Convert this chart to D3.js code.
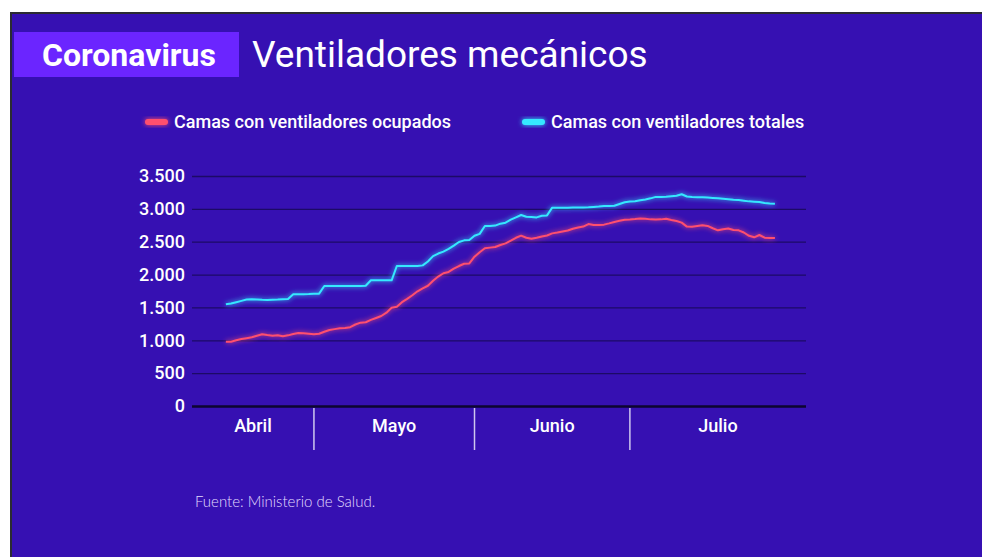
<!DOCTYPE html>
<html>
<head>
<meta charset="utf-8">
<script src="https://cdn.jsdelivr.net/npm/d3@7"></script>
<style>
  html, body { margin: 0; padding: 0; background: #fff; }
  svg { display: block; }
</style>
</head>
<body>
<script>
// data: camas con ventiladores, Ministerio de Salud (from 14 April 2020, daily)
var startDate = new Date(2020, 3, 14);

var ocupados = [
	979, 978, 1000, 1020, 1032, 1045, 1068, 1092, 1080, 1070, 1078, 1060, 1075, 1095, 1111, 1108, 1100,
	1092, 1100, 1130, 1157, 1170, 1182, 1188, 1200, 1240, 1268, 1275, 1310, 1340, 1370, 1420, 1496,
	1510, 1580, 1630, 1685, 1745, 1790, 1830, 1905, 1970, 2020, 2040, 2090, 2130, 2165, 2170,
	2272, 2340, 2400, 2410, 2420, 2450, 2475, 2515, 2560, 2592, 2560, 2546, 2560, 2580, 2595, 2627,
	2640, 2655, 2670, 2698, 2715, 2730, 2769, 2755, 2755, 2760, 2779, 2800, 2818, 2835,
	2838, 2845, 2855, 2848, 2840, 2838, 2840, 2850, 2830, 2815, 2790, 2730, 2728, 2738, 2749, 2740,
	2705, 2673, 2690, 2700, 2678, 2673, 2640, 2590, 2567, 2602, 2561, 2558, 2555
];

var totales = [
	1548, 1560, 1580, 1600, 1620, 1625, 1622, 1615, 1612, 1618, 1620, 1625, 1630, 1700, 1700, 1702, 1705,
	1710, 1710, 1826, 1826, 1826, 1826, 1826, 1826, 1826, 1826, 1830, 1913, 1913, 1913, 1913, 1913,
	2130, 2130, 2130, 2130, 2130, 2140, 2200, 2280, 2320, 2350, 2390, 2440, 2495, 2521, 2525,
	2590, 2620, 2739, 2739, 2745, 2775, 2790, 2835, 2870, 2906, 2880, 2875, 2870, 2896, 2900, 3018,
	3018, 3018, 3018, 3020, 3020, 3022, 3025, 3030, 3035, 3043, 3045, 3048, 3075, 3100,
	3112, 3115, 3130, 3142, 3160, 3182, 3182, 3185, 3192, 3200, 3222, 3188, 3182, 3178, 3175, 3172,
	3167, 3162, 3155, 3148, 3140, 3135, 3125, 3114, 3110, 3105, 3088, 3082, 3078
];

var yTicks = [0, 500, 1000, 1500, 2000, 2500, 3000, 3500];
var months = ['Abril', 'Mayo', 'Junio', 'Julio'];
var monthStarts = [new Date(2020, 4, 1), new Date(2020, 5, 1), new Date(2020, 6, 1)];
var seriesNames = ['Camas con ventiladores ocupados', 'Camas con ventiladores totales'];
var seriesColors = ['#ff4f6e', '#35e8ff'];

var W = 982, H = 557;
var bg = '#3610b2';

var svg = d3.select('body')
			.append('svg')
			.attr('width', W)
			.attr('height', H);

var defs = svg.append('defs');
var glow = defs.append('filter')
			   .attr('id', 'glow')
			   .attr('x', '-20%').attr('y', '-50%')
			   .attr('width', '140%').attr('height', '200%');
glow.append('feGaussianBlur').attr('in', 'SourceGraphic').attr('stdDeviation', 2.5).attr('result', 'b');
var merge = glow.append('feMerge');
merge.append('feMergeNode').attr('in', 'b');
merge.append('feMergeNode').attr('in', 'SourceGraphic');

// frame
svg.append('rect').attr('x', 0).attr('y', 0).attr('width', W).attr('height', H).attr('fill', '#fff');
svg.append('rect').attr('x', 10).attr('y', 12).attr('width', W - 10).attr('height', H - 12).attr('fill', '#2b2b33');
svg.append('rect').attr('x', 12).attr('y', 14).attr('width', W - 12).attr('height', H - 14).attr('fill', bg);

// header
svg.append('rect').attr('x', 14).attr('y', 32).attr('width', 225).attr('height', 45).attr('fill', '#6b25ff');
svg.append('text')
	.attr('x', 129).attr('y', 66)
	.attr('text-anchor', 'middle')
	.attr('fill', '#fff')
	.style('font-family', 'Roboto, sans-serif')
	.style('font-weight', 700)
	.style('font-size', '32px')
	.text('Coronavirus');
svg.append('text')
	.attr('x', 252).attr('y', 67)
	.attr('fill', '#fff')
	.style('font-family', 'Roboto, sans-serif')
	.style('font-size', '37px')
	.text('Ventiladores mecánicos');

// scales
var x = d3.scaleTime()
		  .domain([new Date(2020, 3, 7, 11), new Date(2020, 7, 4)])
		  .range([192, 806]);
var y = d3.scaleLinear()
		  .domain([0, 3500])
		  .range([406, 176]);

var dates = d3.timeDay.range(startDate, d3.timeDay.offset(startDate, ocupados.length));

// grid
var grid = svg.append('g')
			  .attr('transform', 'translate(' + x.range()[0] + ',0)')
			  .call(d3.axisLeft(y).tickValues(yTicks).tickSize(-(x.range()[1] - x.range()[0])).tickFormat(''));
grid.select('.domain').remove();
grid.selectAll('line')
	.attr('stroke', '#1c0a66')
	.attr('stroke-width', 1.3)
	.filter(function(d){ return d === 0; })
	.attr('stroke', '#0d0530')
	.attr('stroke-width', 2.5);

// y labels
var fmt = function(d){ return d3.format(',')(d).replace(/,/g, '.'); };
svg.append('g')
	.selectAll('text')
	.data(yTicks)
	.enter()
	.append('text')
	.attr('x', 185)
	.attr('y', function(d){ return y(d); })
	.attr('dy', '0.35em')
	.attr('text-anchor', 'end')
	.attr('fill', '#fff')
	.style('font-family', 'Roboto, sans-serif')
	.style('font-weight', 500)
	.style('font-size', '18px')
	.text(fmt);

// month separators and labels
svg.append('g')
	.selectAll('line')
	.data(monthStarts)
	.enter()
	.append('line')
	.attr('x1', function(d){ return x(d); })
	.attr('x2', function(d){ return x(d); })
	.attr('y1', 408)
	.attr('y2', 450)
	.attr('stroke', '#cfc7ef')
	.attr('stroke-width', 1.5);

var bounds = [x.domain()[0]].concat(monthStarts).concat([x.domain()[1]]);
svg.append('g')
	.selectAll('text')
	.data(months)
	.enter()
	.append('text')
	.attr('x', function(d, i){ return (x(bounds[i]) + x(bounds[i + 1])) / 2; })
	.attr('y', 432)
	.attr('text-anchor', 'middle')
	.attr('fill', '#fff')
	.style('font-family', 'Roboto, sans-serif')
	.style('font-weight', 500)
	.style('font-size', '18px')
	.text(function(d){ return d; });

// lines
var line = d3.line()
			 .x(function(d, i){ return x(dates[i]); })
			 .y(function(d){ return y(d); });

[totales, ocupados].forEach(function(s, k){
	svg.append('path')
		.datum(s)
		.attr('d', line)
		.attr('fill', 'none')
		.attr('stroke', k === 0 ? seriesColors[1] : seriesColors[0])
		.attr('stroke-width', 2)
		.attr('stroke-linejoin', 'round')
		.attr('filter', 'url(#glow)');
});

// legend
var legendX = [145, 522];
var legend = svg.append('g')
				.selectAll('g')
				.data(seriesNames)
				.enter()
				.append('g')
				.attr('transform', function(d, i){ return 'translate(' + legendX[i] + ',122)'; });
legend.append('rect')
	  .attr('x', 0).attr('y', -3)
	  .attr('width', 23).attr('height', 6)
	  .attr('rx', 3)
	  .attr('fill', function(d, i){ return seriesColors[i]; })
	  .attr('filter', 'url(#glow)');
legend.append('text')
	  .attr('x', 29).attr('y', 0)
	  .attr('dy', '0.35em')
	  .attr('fill', '#fff')
	  .style('font-family', 'Roboto, sans-serif')
	  .style('font-weight', 500)
	  .style('font-size', '18px')
	  .text(function(d){ return d; });

// source
svg.append('text')
	.attr('x', 195).attr('y', 507)
	.attr('fill', '#e2dcff')
	.style('font-family', 'Lato, sans-serif')
	.style('font-weight', 300)
	.style('font-size', '15px')
	.text('Fuente: Ministerio de Salud.');
</script>
</body>
</html>
